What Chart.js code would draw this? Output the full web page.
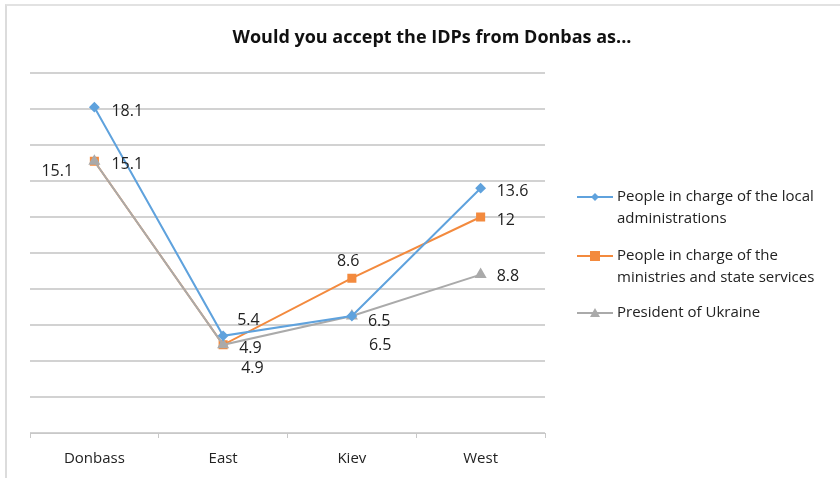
<!DOCTYPE html>
<html>
<head>
<meta charset="utf-8">
<script src="https://cdn.jsdelivr.net/npm/chart.js@4"></script>
<style>
  html, body { margin: 0; padding: 0; background: #fff; }
  #wrap { position: relative; width: 840px; height: 478px; }
  #frame { position: absolute; left: 5px; top: 4px; width: 840px; height: 472px;
           border-left: 2px solid #dcdcdc; border-top: 2px solid #e2e2e2; border-bottom: 1px solid #f0f0f0; }
  canvas { position: absolute; left: 0; top: 0; }
</style>
</head>
<body>
<div id="wrap">
  <div id="frame"></div>
  <canvas id="chart" width="840" height="478"></canvas>
</div>
<script>
const categories = ['Donbass', 'East', 'Kiev', 'West'];
const localAdmin = [18.1, 5.4, 6.5, 13.6];
const ministries = [15.1, 4.9, 8.6, 12];
const president = [15.1, 4.9, 6.5, 8.8];

const seriesNames = [
  ['People in charge of the local', 'administrations'],
  ['People in charge of the', 'ministries and state services'],
  ['President of Ukraine']
];
const colors = ['#5fa2dd', '#f38a3e', '#aaaaaa'];

// label offsets per point [dx, dy] relative to the point, left-aligned text
const labelPos = [
  [[17, 4], [14, -15], [16, 5], [16, 3]],
  [[17, 3], [16, 4], [-15, -17], [16, 3]],
  [[-53, 10], [18, 24], [17, 29], [16, 2]]
];

const fontFamily = '"Open Sans", "Noto Sans", sans-serif';

const drawExtras = {
  id: 'drawExtras',
  afterDatasetsDraw(chart) {
    const ctx = chart.ctx;
    ctx.save();
    // title
    ctx.fillStyle = '#111';
    ctx.font = 'bold 18px ' + fontFamily;
    ctx.textAlign = 'center';
    ctx.textBaseline = 'middle';
    ctx.fillText('Would you accept the IDPs from Donbas as...', 432, 38);

    // value labels
    ctx.font = '16px ' + fontFamily;
    ctx.fillStyle = '#222';
    ctx.textAlign = 'left';
    chart.data.datasets.forEach((ds, i) => {
      const meta = chart.getDatasetMeta(i);
      meta.data.forEach((pt, j) => {
        const [dx, dy] = labelPos[i][j];
        ctx.fillText(String(ds.data[j]), pt.x + dx, pt.y + dy);
      });
    });

    // legend
    const legendY = [197, 256, 313];
    seriesNames.forEach((lines, i) => {
      const y = legendY[i];
      ctx.strokeStyle = colors[i];
      ctx.lineWidth = 2;
      ctx.beginPath();
      ctx.moveTo(577, y);
      ctx.lineTo(613, y);
      ctx.stroke();
      ctx.fillStyle = colors[i];
      const cx = 595;
      if (i === 0) {
        ctx.beginPath();
        ctx.moveTo(cx, y - 4); ctx.lineTo(cx + 4, y); ctx.lineTo(cx, y + 4); ctx.lineTo(cx - 4, y);
        ctx.closePath(); ctx.fill();
      } else if (i === 1) {
        ctx.fillRect(cx - 5, y - 5, 10, 10);
      } else {
        ctx.beginPath();
        ctx.moveTo(cx, y - 5); ctx.lineTo(cx + 5, y + 4); ctx.lineTo(cx - 5, y + 4);
        ctx.closePath(); ctx.fill();
      }
      ctx.fillStyle = '#222';
      ctx.font = '15px ' + fontFamily;
      ctx.textBaseline = 'middle';
      lines.forEach((t, k) => ctx.fillText(t, 617, y + k * 22));
    });
    ctx.restore();
  }
};

new Chart(document.getElementById('chart'), {
  type: 'line',
  data: {
    labels: categories,
    datasets: [
      { data: localAdmin, order: 0, borderColor: colors[0], backgroundColor: colors[0], pointStyle: 'rectRot', pointRadius: 4, borderWidth: 2 },
      { data: ministries, order: 2, borderColor: colors[1], backgroundColor: colors[1], pointStyle: 'rect', pointRadius: 5, borderWidth: 2 },
      { data: president, order: 1, borderColor: colors[2], backgroundColor: colors[2], pointStyle: 'triangle', pointRadius: 5, borderWidth: 2 }
    ]
  },
  options: {
    responsive: false,
    animation: false,
    layout: { padding: { top: 73, left: 30, right: 295, bottom: 0 } },
    plugins: { legend: { display: false }, title: { display: false }, tooltip: { enabled: false } },
    scales: {
      x: {
        offset: true,
        grid: { offset: true, drawOnChartArea: false, drawTicks: true, tickLength: 5, color: '#c8c8c8' },
        border: { color: '#c8c8c8', width: 1 },
        ticks: { color: '#222', font: { family: fontFamily, size: 15 }, padding: 12 },
        afterFit(s) { s.height = 45; }
      },
      y: {
        min: 0, max: 20,
        ticks: { stepSize: 2, display: false },
        grid: { color: '#d2d2d2', lineWidth: 2, drawTicks: false },
        border: { display: false },
        afterFit(s) { s.width = 0; }
      }
    }
  },
  plugins: [drawExtras]
});
</script>
</body>
</html>
